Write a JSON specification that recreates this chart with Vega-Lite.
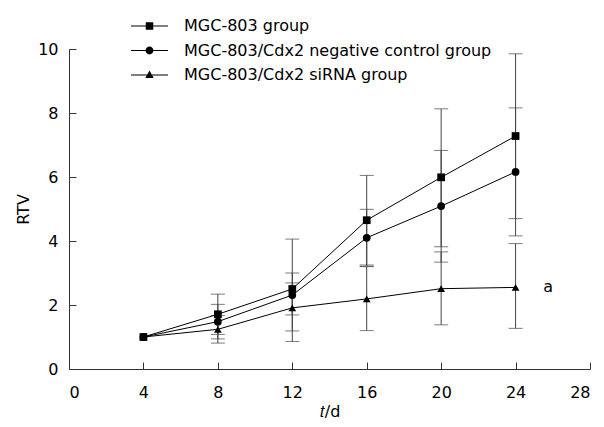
{
  "$schema": "https://vega.github.io/schema/vega-lite/v6.json",
  "width": 521,
  "height": 320,
  "autosize": {"type": "none"},
  "padding": {"left": 69, "top": 49, "right": 14, "bottom": 58},
  "background": "white",
  "config": {
    "font": "DejaVu Sans",
    "view": {"stroke": null},
    "axis": {
      "grid": false,
      "domainColor": "#333333",
      "tickColor": "#333333",
      "labelColor": "#000000",
      "titleColor": "#000000",
      "labelFont": "DejaVu Sans",
      "titleFont": "DejaVu Sans",
      "labelFontSize": 16,
      "titleFontSize": 16,
      "titleFontWeight": "normal"
    }
  },
  "data": {
    "values": [
      {"t": 4, "group": "MGC-803 group", "rtv": 1.0, "lo": null, "hi": null},
      {"t": 8, "group": "MGC-803 group", "rtv": 1.71, "lo": 1.08, "hi": 2.34},
      {"t": 12, "group": "MGC-803 group", "rtv": 2.5, "lo": 0.86, "hi": 4.06},
      {"t": 16, "group": "MGC-803 group", "rtv": 4.65, "lo": 3.25, "hi": 6.05},
      {"t": 20, "group": "MGC-803 group", "rtv": 5.99, "lo": 3.82, "hi": 8.13},
      {"t": 24, "group": "MGC-803 group", "rtv": 7.28, "lo": 4.7, "hi": 9.85},
      {"t": 4, "group": "MGC-803/Cdx2 negative control group", "rtv": 1.0, "lo": null, "hi": null},
      {"t": 8, "group": "MGC-803/Cdx2 negative control group", "rtv": 1.48, "lo": 0.94, "hi": 2.02},
      {"t": 12, "group": "MGC-803/Cdx2 negative control group", "rtv": 2.31, "lo": 1.69, "hi": 3.0},
      {"t": 16, "group": "MGC-803/Cdx2 negative control group", "rtv": 4.1, "lo": 3.21, "hi": 4.99},
      {"t": 20, "group": "MGC-803/Cdx2 negative control group", "rtv": 5.09, "lo": 3.34, "hi": 6.83},
      {"t": 24, "group": "MGC-803/Cdx2 negative control group", "rtv": 6.16, "lo": 4.16, "hi": 8.16},
      {"t": 4, "group": "MGC-803/Cdx2 siRNA group", "rtv": 1.0, "lo": null, "hi": null},
      {"t": 8, "group": "MGC-803/Cdx2 siRNA group", "rtv": 1.24, "lo": 0.81, "hi": 1.67},
      {"t": 12, "group": "MGC-803/Cdx2 siRNA group", "rtv": 1.91, "lo": 1.19, "hi": 2.69},
      {"t": 16, "group": "MGC-803/Cdx2 siRNA group", "rtv": 2.19, "lo": 1.2, "hi": 3.2},
      {"t": 20, "group": "MGC-803/Cdx2 siRNA group", "rtv": 2.51, "lo": 1.38, "hi": 3.66},
      {"t": 24, "group": "MGC-803/Cdx2 siRNA group", "rtv": 2.55, "lo": 1.27, "hi": 3.92}
    ]
  },
  "resolve": {"scale": {"shape": "independent"}},
  "layer": [
    {
      "mark": {"type": "rule", "color": "#444444", "strokeWidth": 1},
      "encoding": {
        "x": {
          "field": "t", "type": "quantitative",
          "scale": {"domain": [0, 28], "nice": false, "zero": false},
          "axis": {
            "values": [0, 4, 8, 12, 16, 20, 24, 28],
            "title": "𝑡/d",
            "tickSize": -7,
            "labelPadding": 22,
            "titlePadding": 3
          }
        },
        "y": {
          "field": "lo", "type": "quantitative",
          "scale": {"domain": [0, 10], "nice": false},
          "axis": {
            "values": [0, 2, 4, 6, 8, 10],
            "title": "RTV",
            "tickSize": -7,
            "labelPadding": 18,
            "titlePadding": 6
          }
        },
        "y2": {"field": "hi"}
      }
    },
    {
      "mark": {"type": "tick", "orient": "horizontal", "color": "#444444", "thickness": 1, "size": 14},
      "encoding": {
        "x": {"field": "t", "type": "quantitative"},
        "y": {"field": "lo", "type": "quantitative"}
      }
    },
    {
      "mark": {"type": "tick", "orient": "horizontal", "color": "#444444", "thickness": 1, "size": 14},
      "encoding": {
        "x": {"field": "t", "type": "quantitative"},
        "y": {"field": "hi", "type": "quantitative"}
      }
    },
    {
      "mark": {"type": "line", "color": "#000000", "strokeWidth": 1},
      "encoding": {
        "x": {"field": "t", "type": "quantitative"},
        "y": {"field": "rtv", "type": "quantitative"},
        "detail": {"field": "group"}
      }
    },
    {
      "mark": {"type": "point", "filled": true, "color": "#000000", "opacity": 1, "size": 60},
      "encoding": {
        "x": {"field": "t", "type": "quantitative"},
        "y": {"field": "rtv", "type": "quantitative"},
        "shape": {
          "field": "group", "type": "nominal",
          "scale": {
            "domain": ["MGC-803 group", "MGC-803/Cdx2 negative control group", "MGC-803/Cdx2 siRNA group"],
            "range": ["square", "circle", "triangle-up"]
          },
          "legend": null
        }
      }
    },
    {
      "mark": {"type": "point", "filled": true, "fill": "#000000", "opacity": 0, "size": 400},
      "encoding": {
        "x": {"field": "t", "type": "quantitative"},
        "y": {"field": "rtv", "type": "quantitative"},
        "shape": {
          "field": "group", "type": "nominal",
          "scale": {
            "domain": ["MGC-803 group", "MGC-803/Cdx2 negative control group", "MGC-803/Cdx2 siRNA group"],
            "range": [
              "M-1.85,-0.05H-0.3V0.05H-1.85ZM0.3,-0.05H1.85V0.05H0.3ZM-0.375,-0.375H0.375V0.375H-0.375Z",
              "M-1.85,-0.05H-0.3V0.05H-1.85ZM0.3,-0.05H1.85V0.05H0.3ZM0.39,0A0.39,0.39,0,1,1,-0.39,0A0.39,0.39,0,1,1,0.39,0Z",
              "M-1.85,-0.05H-0.3V0.05H-1.85ZM0.3,-0.05H1.85V0.05H0.3ZM-0.3,-0.05H0.3V0.05H-0.3ZM0,-0.45L0.42,0.3L-0.42,0.3Z"
            ]
          },
          "legend": {
            "title": null,
            "orient": "none",
            "legendX": 69.5,
            "legendY": -34,
            "symbolSize": 400,
            "symbolFillColor": "#000000",
            "symbolOpacity": 1,
            "labelFont": "DejaVu Sans",
            "labelFontSize": 16,
            "labelColor": "#000000",
            "labelOffset": 23.5,
            "labelLimit": 500,
            "rowPadding": 5.5,
            "padding": 0
          }
        }
      }
    },
    {
      "data": {"values": [{"t": 25.75, "rtv": 2.55, "label": "a"}]},
      "mark": {"type": "text", "fontSize": 16, "font": "DejaVu Sans", "color": "#000000", "align": "center", "baseline": "middle"},
      "encoding": {
        "x": {"field": "t", "type": "quantitative"},
        "y": {"field": "rtv", "type": "quantitative"},
        "text": {"field": "label"}
      }
    }
  ]
}
